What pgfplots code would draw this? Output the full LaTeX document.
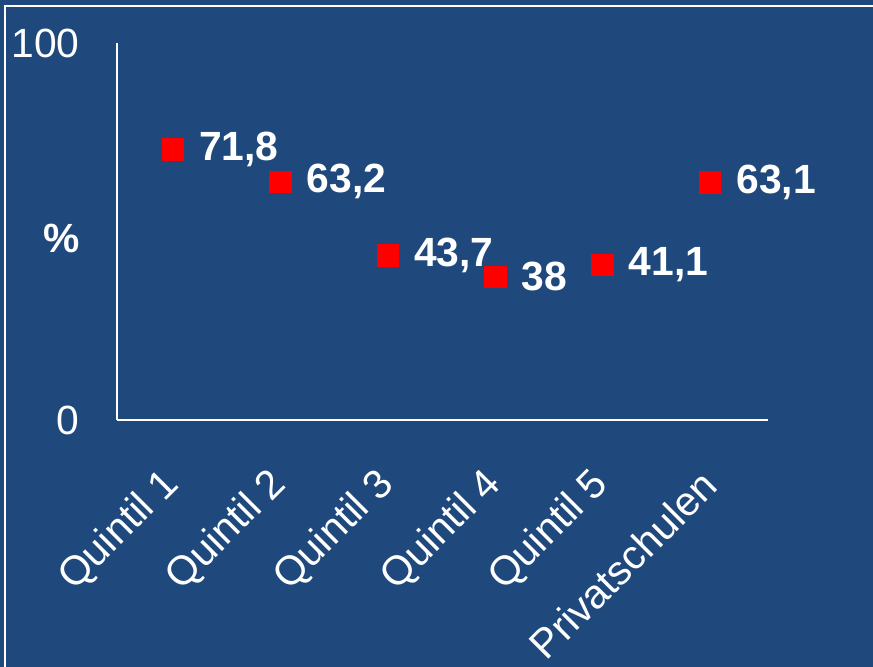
\documentclass[border=0pt]{standalone}
\usepackage{fontspec}
\setmainfont{Liberation Sans}
\usepackage{pgfplots}
\pgfplotsset{compat=1.18}
\usetikzlibrary{backgrounds,calc}
\definecolor{bg}{RGB}{31,73,125}
\newcommand{\fs}{\fontsize{20.4}{24}\selectfont}

\begin{document}
\begin{tikzpicture}
\begin{axis}[
    name=ax,
    scale only axis, width=325.5pt, height=188.5pt,
    xmin=-0.52, xmax=5.54, ymin=0, ymax=100,
    axis x line=bottom, axis y line=left,
    axis line style={white, line width=0.8pt, -},
    xtick={0,...,5},
    xticklabels={Quintil 1, Quintil 2, Quintil 3, Quintil 4, Quintil 5, Privatschulen},
    ytick={0,100},
    major tick length=0pt,
    tick label style={white, font=\fs},
    /pgf/number format/assume math mode=true,
    xticklabel style={yshift=-29pt, rotate=45, anchor=east, inner sep=0pt},
    yticklabel style={inner sep=0pt, xshift=-18.5pt},
    nodes near coords,
    point meta=explicit symbolic,
    nodes near coords style={white, font=\fs\bfseries, anchor=west, inner sep=0pt, xshift=13pt},
    clip=false,
]
\addplot[only marks, mark=square*, mark size=5.4pt, red] table[meta=label] {
x y label
0 71.8 71,8
1 63.2 63,2
2 43.7 43,7
3 38.0 38
4 41.1 41,1
5 63.1 63,1
};
\end{axis}
\node[white, font=\fs\bfseries] at ($(ax.south west)+(-27.5pt,91pt)$) {\%};
\coordinate (A) at ($(ax.south west)+(-58.5pt,-123.5pt)$);
\coordinate (B) at ($(ax.south west)+(378pt,210pt)$);
\begin{scope}[on background layer]
\fill[bg] (A) rectangle (B);
\draw[white, line width=1pt] ($(A)+(2.75pt,0)$) |- ($(B)+(0,-3pt)$);
\end{scope}
\pgfresetboundingbox
\path[use as bounding box] (A) rectangle (B);
\end{tikzpicture}
\end{document}
